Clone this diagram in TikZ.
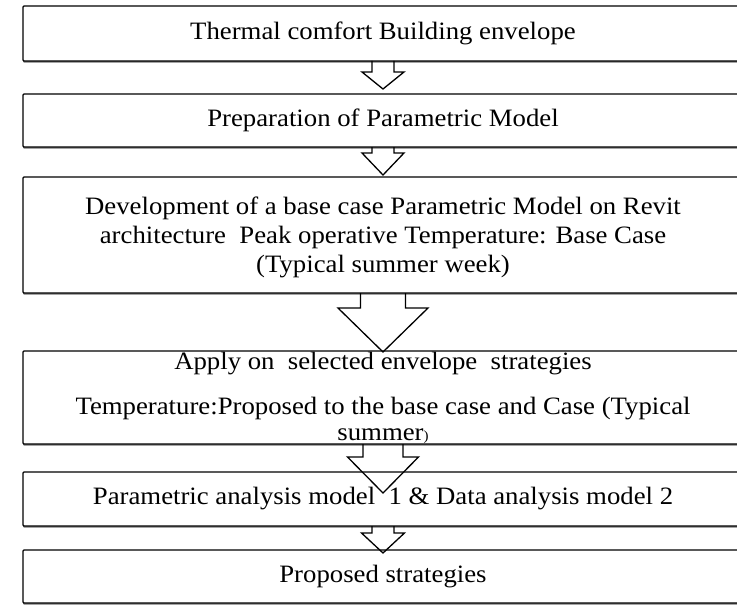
\documentclass[tikz,border=0pt]{standalone}
\usepackage{fontspec}
\setmainfont{Liberation Serif}[FakeStretch=1.07]
\usepackage{tikz}
\usetikzlibrary{positioning,calc,shadows}

\newcommand{\blockarrow}[5]{%
  \draw[barrow] ($(axis |- #1.south)+(-#2,0)$) -- ++(0,#4) -- ++({#2-#3},0)
    -- ++(#3,#5) -- ++(#3,-#5) -- ++({#2-#3},0) -- ++(0,-#4);
}

\begin{document}
\begin{tikzpicture}[
        x=1pt, y=-1pt,
        stage/.style={
            draw, fill=white, line width=1.4pt, rounded corners=1pt,
            minimum width=760pt, inner sep=0pt, outer sep=0pt,
            drop shadow={shadow xshift=0pt, shadow yshift=-1.6pt, fill=black!55, opacity=1}
        },
        caption/.style={font=\fontsize{25}{29}\selectfont, align=center, inner sep=0pt},
        barrow/.style={line width=1.3pt, line join=miter}
    ]
        \useasboundingbox (0,0) rectangle (737,610);
        \coordinate (axis) at (383,0);

        \node[stage, minimum height=55pt, anchor=north west] (s1) at (23,6) {};
        \node[stage, minimum height=53pt, below=33pt of s1] (s2) {};
        \node[stage, minimum height=116pt, below=30pt of s2] (s3) {};
        \node[stage, minimum height=93pt, below=58pt of s3] (s4) {};
        \node[stage, minimum height=54pt, below=28pt of s4] (s5) {};
        \node[stage, minimum height=53pt, below=24pt of s5] (s6) {};

        \node[caption] (t1) at (axis |- s1.center) {Thermal comfort Building envelope};
        \node[caption] (t2) at (axis |- s2.center) {Preparation of Parametric Model};
        \node[caption] (t3) at ($(axis |- s3.center)+(0,2)$) {Development of a base case Parametric Model on Revit\\
            architecture\ \ Peak operative Temperature: Base Case\\(Typical summer week)};
        \node[caption] (t4) at (axis |- s4.center) {Apply on\ \ selected envelope\ \ strategies\\[16pt]
            Temperature:Proposed to the base case and Case (Typical\\[-3pt]
            summer{\fontsize{14}{14}\selectfont)}};
        \node[caption] (t5) at (axis |- s5.center) {Parametric analysis model\ \ 1 \& Data analysis model 2};
        \node[caption] (t6) at (axis |- s6.center) {Proposed strategies};

        \blockarrow{s1}{11}{21}{11}{17}
        \blockarrow{s2}{11}{21}{6}{22}
        \blockarrow{s3}{22.5}{45}{15}{44}
        \blockarrow{s4}{20}{35.5}{13}{36}
        \blockarrow{s5}{11}{21.5}{7}{20}
    \end{tikzpicture}
\end{document}
